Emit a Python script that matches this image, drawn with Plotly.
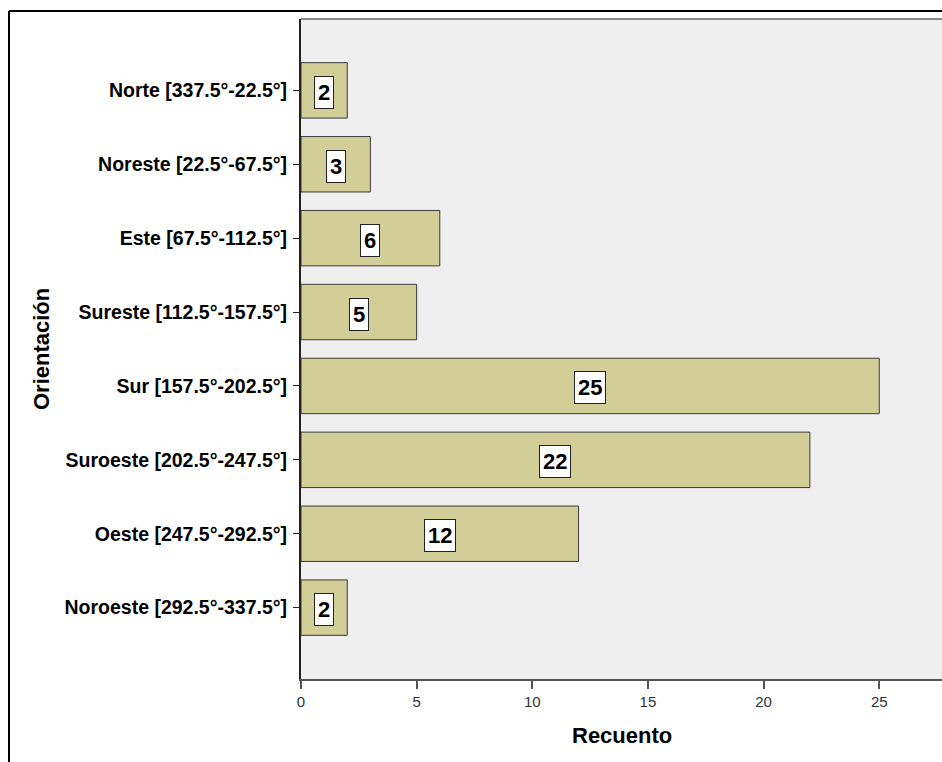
import plotly.graph_objects as go

# Recuento por orientación
categorias = [
    "Norte [337.5°-22.5°]",
    "Noreste [22.5°-67.5°]",
    "Este [67.5°-112.5°]",
    "Sureste [112.5°-157.5°]",
    "Sur [157.5°-202.5°]",
    "Suroeste [202.5°-247.5°]",
    "Oeste [247.5°-292.5°]",
    "Noroeste [292.5°-337.5°]",
]
recuento = [2, 3, 6, 5, 25, 22, 12, 2]
ticks_x = [0, 5, 10, 15, 20, 25]

W, H = 942, 762
ML, MR, MT, MB = 301, 0, 19, 83
pw, ph = W - ML - MR, H - MT - MB
FONT = "Liberation Sans, Arial, sans-serif"

fig = go.Figure()
fig.add_trace(go.Bar(
    x=recuento,
    y=categorias,
    orientation="h",
    width=0.75,
    marker=dict(color="#D3CE97", line=dict(color="#3a3a3a", width=1)),
    hoverinfo="x+y",
))

# value boxes centred in each bar
annotations = []
for cat, v in zip(categorias, recuento):
    annotations.append(dict(
        x=v / 2, y=cat, xref="x", yref="y",
        text=str(v), showarrow=False,
        font=dict(family=FONT, size=22, color="#000000", weight="bold"),
        bgcolor="#FFFFFF", bordercolor="#222222", borderwidth=1, borderpad=3,
        yshift=-2,
    ))

# axis titles
annotations.append(dict(
    x=(622 - ML) / pw, y=-(735 - (MT + ph)) / ph, xref="paper", yref="paper",
    text="Recuento", showarrow=False, xanchor="center", yanchor="middle",
    font=dict(family=FONT, size=22, color="#000000", weight="bold"),
))
annotations.append(dict(
    x=(41 - ML) / pw, y=1 - (349 - MT) / ph, xref="paper", yref="paper",
    text="Orientación", showarrow=False, textangle=-90, xanchor="center", yanchor="middle",
    font=dict(family=FONT, size=22, color="#000000", weight="bold"),
))

# outer frame (left and top edges)
shapes = [
    dict(type="line", xref="paper", yref="paper",
         x0=(9 - ML) / pw, x1=1.05, y0=1 + (MT - 11) / ph, y1=1 + (MT - 11) / ph,
         line=dict(color="#000000", width=2)),
    dict(type="line", xref="paper", yref="paper",
         x0=(9 - ML) / pw, x1=(9 - ML) / pw, y0=1 + (MT - 11) / ph, y1=-0.2,
         line=dict(color="#000000", width=2)),
    # top border of the plot area
    dict(type="line", xref="paper", yref="paper",
         x0=0, x1=1.05, y0=1, y1=1,
         line=dict(color="#8a8a8a", width=2)),
]

n = len(categorias)
fig.update_layout(
    width=W, height=H,
    margin=dict(l=ML, r=MR, t=MT, b=MB, pad=0),
    paper_bgcolor="#FFFFFF",
    plot_bgcolor="#EFEFEF",
    showlegend=False,
    annotations=annotations,
    shapes=shapes,
    xaxis=dict(
        range=[0, pw / 23.13],
        tickvals=ticks_x,
        ticks="outside", ticklen=8, tickwidth=2, tickcolor="#555555",
        showgrid=False, zeroline=False,
        showline=True, linecolor="#555555", linewidth=2,
        tickfont=dict(family=FONT, size=15, color="#333333"),
        fixedrange=True,
    ),
    yaxis=dict(
        type="category",
        categoryorder="array", categoryarray=categorias,
        range=[n - 1 + 0.966, -0.966],
        ticks="outside", ticklen=6, tickwidth=1, tickcolor="#222222",
        showgrid=False, zeroline=False,
        showline=True, linecolor="#222222", linewidth=2,
        tickfont=dict(family=FONT, size=19.5, color="#000000", weight="bold"),
        ticklabelstandoff=2,
        fixedrange=True,
    ),
)

fig.write_html("out.html", config={"displayModeBar": False})
